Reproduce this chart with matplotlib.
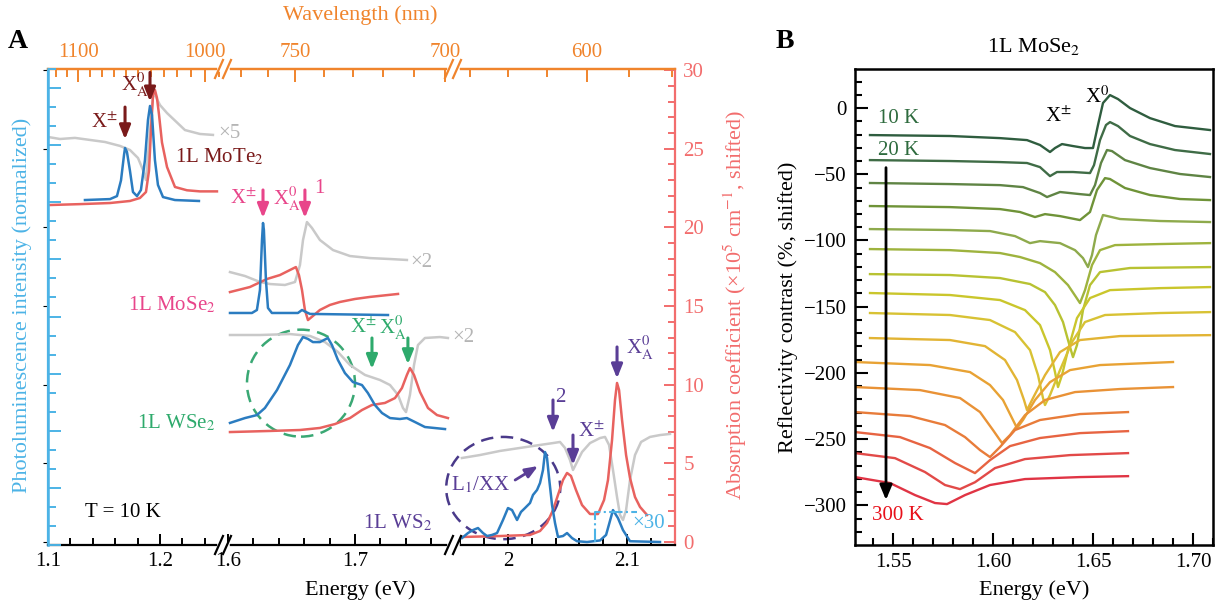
import numpy as np
import matplotlib
matplotlib.use('Agg')
import matplotlib.pyplot as plt
from matplotlib.patches import Ellipse
from matplotlib.lines import Line2D

plt.rcParams['font.family'] = ['Liberation Serif', 'DejaVu Serif']
plt.rcParams['mathtext.fontset'] = 'stix'
plt.rcParams['font.size'] = 15

# ---------------- panel A data (energy eV / absorption units, shifted) ----------------
mote2_abs_e = [1.1, 1.1286, 1.1554, 1.1732, 1.1821, 1.1875, 1.1902, 1.1920, 1.1938, 1.1955,
               1.1973, 1.1991, 1.2018, 1.2063, 1.2134, 1.2241, 1.2357, 1.2509]
mote2_abs_y = [21.42, 21.48, 21.55, 21.68, 21.87, 22.25, 23.60, 26.19, 28.42, 28.74,
               28.24, 27.2, 25.4, 23.84, 22.57, 22.36, 22.29, 22.29]
mote2_pl_e = [1.1330, 1.1554, 1.1616, 1.1652, 1.1679, 1.1688, 1.1705, 1.1732, 1.1759, 1.1795,
              1.1830, 1.1866, 1.1893, 1.1911, 1.1929, 1.1955, 1.1982, 1.2027, 1.2134, 1.2348]
mote2_pl_y = [21.74, 21.80, 21.99, 22.99, 24.61, 25.05, 24.80, 23.60, 22.25, 21.99,
              22.38, 24.28, 26.83, 27.72, 27.14, 24.28, 22.70, 21.93, 21.74, 21.68]
mote2_ref_e = [1.1, 1.1107, 1.1241, 1.1375, 1.1509, 1.1643, 1.1732, 1.1804, 1.1848, 1.1875,
               1.1911, 1.1938, 1.1955, 1.2, 1.2063, 1.2223, 1.2357, 1.2473]
mote2_ref_y = [25.75, 25.62, 25.69, 25.56, 25.43, 25.18, 24.92, 24.41, 23.65, 23.01,
               26.19, 28.35, 28.42, 27.78, 27.27, 26.19, 25.94, 25.88]

mose2_pl_e = [1.6016, 1.6189, 1.6228, 1.6252, 1.6268, 1.6276, 1.6283, 1.6299, 1.6315, 1.6346,
              1.6551, 1.6583, 1.6614, 1.6646, 1.7260]
mose2_pl_y = [14.56, 14.56, 14.75, 16.02, 19.20, 20.28, 19.84, 16.66, 14.88, 14.56,
              14.56, 14.75, 14.62, 14.50, 14.43]
mose2_abs_e = [1.6016, 1.6173, 1.6307, 1.6409, 1.6488, 1.6535, 1.6559, 1.6583, 1.6606, 1.6630,
               1.6669, 1.6724, 1.6803, 1.6882, 1.7, 1.7118, 1.7339]
mose2_abs_y = [15.89, 16.21, 16.72, 16.97, 17.29, 17.48, 16.97, 16.02, 14.75, 14.11,
               14.37, 14.75, 15.07, 15.26, 15.45, 15.58, 15.77]
mose2_ref_e = [1.6016, 1.6134, 1.6252, 1.6331, 1.6449, 1.6528, 1.6567, 1.6591, 1.6622, 1.6661,
               1.6724, 1.6827, 1.6961, 1.7118, 1.7276, 1.7409]
mose2_ref_y = [17.16, 16.91, 16.53, 16.40, 16.34, 16.53, 17.61, 19.20, 20.34, 19.97,
               19.20, 18.56, 18.18, 18.05, 17.99, 17.93]

wse2_pl_e = [1.6016, 1.6134, 1.6228, 1.6291, 1.6386, 1.6488, 1.6551, 1.6591, 1.6630, 1.6669,
             1.6724, 1.6787, 1.6819, 1.6866, 1.6921, 1.6984, 1.7055, 1.7102, 1.7157, 1.7213,
             1.7276, 1.7354, 1.7409, 1.7472, 1.7551, 1.7709]
wse2_pl_y = [7.57, 7.88, 8.07, 8.52, 9.66, 11.25, 12.52, 13.03, 12.91, 12.71,
             12.71, 12.97, 12.52, 11.57, 10.74, 10.17, 9.98, 9.47, 8.71, 8.20,
             7.88, 7.82, 7.88, 7.63, 7.31, 7.18]
wse2_abs_e = [1.6016, 1.6331, 1.6567, 1.6724, 1.6843, 1.6961, 1.7055, 1.7134, 1.7236, 1.7315,
              1.7370, 1.7409, 1.7433, 1.7465, 1.7512, 1.7575, 1.7646, 1.7732]
wse2_abs_y = [6.99, 7.06, 7.12, 7.25, 7.50, 7.88, 8.39, 8.71, 8.84, 9.15,
              9.79, 10.62, 11.06, 10.62, 9.54, 8.52, 8.07, 7.88]
wse2_ref_e = [1.6016, 1.6252, 1.6488, 1.6646, 1.6764, 1.6866, 1.6961, 1.7079, 1.7197, 1.7276,
              1.7339, 1.7378, 1.7402, 1.7433, 1.7465, 1.7496, 1.7551, 1.7669, 1.7732]
wse2_ref_y = [13.16, 13.16, 13.22, 13.10, 12.71, 12.08, 11.25, 10.62, 10.30, 9.98,
              9.35, 8.52, 8.26, 9.35, 11.25, 12.52, 12.97, 13.03, 12.97]

ws2_pl_e = [1.9613, 1.9664, 1.9706, 1.9748, 1.9790, 1.9824, 1.9866, 1.9908, 1.9958, 2.0,
            2.0034, 2.0076, 2.0109, 2.0143, 2.0185, 2.0210, 2.0244, 2.0269, 2.0294, 2.0311,
            2.0328, 2.0345, 2.0370, 2.0395, 2.0420, 2.0462, 2.0496, 2.0538, 2.0580, 2.0664,
            2.0773, 2.0824, 2.0882, 2.0924, 2.0966, 2.1025, 2.1277]
ws2_pl_y = [0.25, 0.57, 0.76, 0.89, 0.57, 0.38, 0.45, 0.57, 1.40, 2.16,
            2.03, 1.40, 1.91, 2.16, 2.48, 2.99, 3.31, 3.75, 4.58, 5.72,
            5.34, 4.07, 2.35, 1.21, 0.32, 0.38, 0.57, 0.25, 0.05, 0.0,
            0.1, 0.45, 2.03, 1.52, 0.76, 0.05, 0.0]
ws2_abs_e = [1.9613, 1.9933, 2.0185, 2.0269, 2.0328, 2.0378, 2.0420, 2.0462, 2.0496, 2.0529,
             2.0571, 2.0622, 2.0689, 2.0756, 2.0807, 2.0840, 2.0874, 2.0899, 2.0916, 2.0933,
             2.0958, 2.0992, 2.1025, 2.1067, 2.1109, 2.1168]
ws2_abs_y = [0.32, 0.38, 0.45, 0.70, 1.21, 2.03, 2.99, 3.94, 4.39, 4.20,
             3.31, 2.35, 1.78, 1.78, 2.67, 3.94, 6.48, 9.03, 10.11, 9.66,
             7.76, 5.53, 4.07, 2.86, 2.23, 1.72]
ws2_ref_e = [1.9613, 1.9765, 1.9933, 2.0101, 2.0269, 2.0378, 2.0437, 2.0479, 2.0521, 2.0546,
             2.0580, 2.0622, 2.0689, 2.0773, 2.0815, 2.0849, 2.0882, 2.0916, 2.0941, 2.0966,
             2.0992, 2.1025, 2.1067, 2.1118, 2.1193, 2.1277, 2.1361]
ws2_ref_y = [5.34, 5.53, 5.79, 5.98, 6.17, 6.29, 6.36, 5.98, 5.21, 4.58,
             5.09, 5.72, 6.29, 6.61, 6.68, 6.17, 4.58, 2.86, 1.72, 1.40,
             2.03, 3.94, 5.53, 6.36, 6.68, 6.80, 6.87]
x30_mark_e = [2.0731, 2.0731, 2.1084]
x30_mark_y = [0.0, 1.91, 1.91]

# axis ticks, panel A
seg_lims = [(1.1, 1.2563), (1.5961, 1.7772), (1.9538, 2.1403)]
e_major = [[1.1, 1.2], [1.6, 1.7], [2.0, 2.1]]
e_labels = [['1.1', '1.2'], ['1.6', '1.7'], ['2', '2.1']]
e_minor = [[1.12, 1.14, 1.16, 1.18, 1.22, 1.24],
           [1.62, 1.64, 1.66, 1.68, 1.72, 1.74, 1.76],
           [1.96, 1.98, 2.02, 2.04, 2.06, 2.08, 2.12, 2.14]]
nm_major = [[1100, 1000], [750, 700], [600]]
nm_minor = [list(range(990, 1130, 10)), list(range(700, 780, 10)), list(range(580, 640, 10))]
abs_ticks = [0, 5, 10, 15, 20, 25, 30]

# arrows: (energy, y_start, y_end)
mote2_arrows = [(1.1688, 27.65, 25.6), (1.1911, 29.85, 28.0)]
mose2_arrows = [(1.6276, 22.38, 20.6), (1.6606, 22.38, 20.6)]
wse2_arrows = [(1.7134, 12.97, 11.0), (1.7417, 12.97, 11.3)]
ws2_arrows = [(2.0378, 9.03, 7.0), (2.0546, 6.80, 4.9), (2.0916, 12.4, 10.4)]
l1xx_arrow = [(2.0060, 3.94), (2.0252, 4.83)]

# ---------------- panel B data (reflectivity contrast, %, shifted) ----------------
temps_label = ['10 K', '20 K', '300 K']
rc_e = [
    [1.5385, 1.5785, 1.6035, 1.617, 1.6235, 1.6285, 1.631, 1.6345, 1.640, 1.646, 1.650, 1.6525, 1.655, 1.6585, 1.6625, 1.6685, 1.6785, 1.691, 1.7085],
    [1.5385, 1.5785, 1.6035, 1.617, 1.6235, 1.6285, 1.632, 1.640, 1.6485, 1.6505, 1.6535, 1.6565, 1.6585, 1.6625, 1.6685, 1.6785, 1.691, 1.7085],
    [1.5385, 1.5785, 1.6035, 1.615, 1.6235, 1.627, 1.6335, 1.6435, 1.6485, 1.651, 1.654, 1.657, 1.6595, 1.666, 1.6785, 1.6935, 1.7085],
    [1.5385, 1.5785, 1.6035, 1.6135, 1.621, 1.626, 1.6335, 1.6435, 1.6485, 1.652, 1.656, 1.6585, 1.666, 1.6785, 1.6935, 1.7085],
    [1.5385, 1.5785, 1.5985, 1.611, 1.6185, 1.6235, 1.6335, 1.641, 1.645, 1.6475, 1.6495, 1.6515, 1.655, 1.6635, 1.6835, 1.7085],
    [1.5385, 1.5785, 1.6035, 1.6135, 1.6235, 1.631, 1.6375, 1.6415, 1.6435, 1.646, 1.6495, 1.6535, 1.661, 1.6835, 1.7085],
    [1.5385, 1.5785, 1.6035, 1.6185, 1.626, 1.631, 1.635, 1.6375, 1.640, 1.642, 1.645, 1.6485, 1.6535, 1.6685, 1.7085],
    [1.5385, 1.5785, 1.6035, 1.616, 1.6235, 1.6285, 1.631, 1.6325, 1.6345, 1.6375, 1.642, 1.6485, 1.6585, 1.6835, 1.7085],
    [1.5385, 1.5785, 1.5985, 1.611, 1.6185, 1.6225, 1.625, 1.626, 1.6285, 1.6335, 1.6395, 1.646, 1.656, 1.6835, 1.7085],
    [1.5385, 1.5785, 1.596, 1.606, 1.612, 1.6155, 1.617, 1.620, 1.626, 1.6335, 1.6435, 1.6635, 1.7085],
    [1.531, 1.5685, 1.5885, 1.5985, 1.605, 1.6095, 1.612, 1.615, 1.621, 1.6285, 1.6385, 1.6535, 1.690],
    [1.531, 1.5635, 1.5835, 1.5935, 1.600, 1.6045, 1.6085, 1.616, 1.626, 1.641, 1.6635, 1.690],
    [1.531, 1.5585, 1.576, 1.586, 1.5935, 1.5985, 1.6035, 1.611, 1.6235, 1.6435, 1.6675],
    [1.531, 1.5535, 1.5685, 1.581, 1.591, 1.5985, 1.6085, 1.6235, 1.6435, 1.6675],
    [1.531, 1.551, 1.566, 1.576, 1.5835, 1.591, 1.601, 1.616, 1.6385, 1.6675],
    [1.531, 1.5485, 1.561, 1.571, 1.577, 1.586, 1.5985, 1.616, 1.6435, 1.6675],
]
rc_y = [
    [-20.4, -21.1, -22.7, -24.2, -27.9, -33.2, -30.2, -27.2, -28.7, -30.2, -30.2, -12.8, 3.8, 9.8, 6.8, 0.0, -7.6, -13.6, -16.6],
    [-39.3, -40.0, -40.8, -41.5, -44.6, -51.4, -48.3, -48.3, -49.1, -43.1, -24.2, -12.8, -10.6, -13.6, -21.1, -27.2, -31.7, -34.7],
    [-56.6, -57.4, -58.2, -59.7, -64.2, -67.2, -63.4, -65.0, -65.7, -58.2, -41.5, -31.7, -32.5, -39.3, -45.3, -49.8, -52.1],
    [-74.0, -74.8, -76.3, -78.5, -82.3, -80.1, -81.6, -84.6, -78.5, -61.9, -52.9, -53.6, -60.4, -65.7, -68.7, -69.5],
    [-91.4, -92.1, -92.9, -96.7, -102.0, -100.5, -102.0, -107.3, -113.3, -120.1, -111.0, -95.9, -80.8, -83.8, -85.3, -86.1],
    [-106.5, -107.3, -109.5, -112.5, -117.1, -123.9, -133.7, -142.7, -147.3, -137.5, -118.6, -107.3, -103.5, -102.7, -102.0],
    [-125.4, -126.1, -128.4, -132.9, -139.0, -148.8, -161.6, -175.2, -188.1, -179.0, -152.6, -133.7, -123.9, -120.8, -120.1],
    [-139.7, -141.2, -145.0, -152.6, -163.9, -182.8, -199.4, -210.7, -201.7, -182.8, -158.6, -143.5, -137.5, -136.0, -135.2],
    [-154.8, -156.3, -160.1, -169.2, -182.8, -201.7, -219.0, -224.3, -216.8, -197.9, -176.7, -161.6, -156.3, -154.8, -154.1],
    [-173.7, -175.2, -179.8, -190.3, -205.4, -220.5, -228.1, -219.0, -201.7, -184.3, -175.2, -172.2, -171.5],
    [-191.8, -194.1, -199.4, -209.2, -220.5, -234.1, -241.7, -235.6, -220.5, -207.0, -197.9, -194.1, -191.8],
    [-210.7, -213.0, -219.0, -229.6, -243.2, -253.0, -247.0, -231.9, -220.5, -214.5, -212.2, -210.7],
    [-229.6, -232.6, -239.4, -248.5, -258.3, -263.6, -256.0, -243.2, -235.6, -231.1, -229.6],
    [-244.7, -248.5, -256.8, -268.1, -275.7, -265.9, -255.3, -249.2, -245.5, -244.0],
    [-260.6, -264.4, -274.9, -284.7, -287.8, -282.6, -271.9, -265.1, -262.1, -260.6],
    [-278.7, -283.2, -292.3, -298.3, -299.1, -292.3, -284.7, -280.2, -278.7, -278.0],
]
rc_colors = ['#2f5d3f', '#3f6c46', '#5f8444', '#6f9338', '#8eaa4c', '#9eb33e', '#b8c232', '#cac62c',
             '#d8c234', '#e2b434', '#e8a234', '#e99236', '#e87c3a', '#e76442', '#e24a48', '#e03444']

C_PL = '#2b7cc0'
C_ABS = '#e8625f'
C_REF = '#c9c9c9'
C_BLUE = '#4cb3e6'
C_RED = '#f26d6d'
C_ORANGE = '#f0842c'

W, H = 1220, 605
fig = plt.figure(figsize=(W / 100, H / 100), dpi=100)


def box(x0, x1, y0=69, y1=545):
    return [x0 / W, 1 - y1 / H, (x1 - x0) / W, (y1 - y0) / H]


def e2nm(x):
    x = np.asarray(x, dtype=float)
    with np.errstate(divide='ignore'):
        return 1239.84 / x


seg_px = [(48, 223), (223, 453), (453, 675)]
axs = []
for i, (p0, p1) in enumerate(seg_px):
    ax = fig.add_axes(box(p0, p1))
    ax.patch.set_visible(False)
    ax.set_xlim(*seg_lims[i])
    ax.set_ylim(-0.19, 30.07)
    for s in ax.spines.values():
        s.set_linewidth(1.6)
    ax.spines['bottom'].set_color('black')
    ax.spines['top'].set_color(C_ORANGE)
    ax.spines['left'].set_visible(i == 0)
    ax.spines['left'].set_color(C_BLUE)
    ax.spines['right'].set_visible(i == 2)
    ax.spines['right'].set_color(C_RED)
    ax.set_xticks(e_major[i])
    ax.set_xticklabels(e_labels[i])
    ax.set_xticks(e_minor[i], minor=True)
    ax.tick_params(axis='x', which='both', direction='in', top=False, width=1.4, pad=5)
    ax.tick_params(axis='x', which='major', length=8)
    ax.tick_params(axis='x', which='minor', length=5)
    if i < 2:
        ax.tick_params(axis='y', which='both', left=False, right=False, labelleft=False)
    else:
        ax.yaxis.tick_right()
        ax.set_yticks(abs_ticks)
        ax.set_yticks(range(0, 31), minor=True)
        ax.tick_params(axis='y', which='both', direction='in', colors=C_RED, width=1.4, pad=6)
        ax.tick_params(axis='y', which='major', length=8)
        ax.tick_params(axis='y', which='minor', length=5)
    sec = ax.secondary_xaxis('top', functions=(e2nm, e2nm))
    sec.set_xticks(nm_major[i])
    sec.set_xticklabels([str(v) for v in nm_major[i]])
    sec.set_xticks(nm_minor[i], minor=True)
    sec.tick_params(which='both', direction='in', colors=C_ORANGE, width=1.4, pad=5)
    sec.tick_params(which='major', length=9)
    sec.tick_params(which='minor', length=6)
    sec.spines['top'].set_color(C_ORANGE)
    sec.spines['top'].set_linewidth(1.6)
    axs.append(ax)

ax1, ax2, ax3 = axs

# blue PL axis (normalized, unlabeled ticks)
ax_pl = ax1.twinx()
ax_pl.set_ylim(0, 25)
ax_pl.yaxis.set_ticks_position('left')
ax_pl.set_yticks(range(0, 26, 3))
ax_pl.set_yticks(range(0, 26), minor=True)
ax_pl.tick_params(axis='y', which='both', direction='in', colors=C_BLUE, width=1.4,
                  labelleft=False, labelright=False)
ax_pl.tick_params(axis='y', which='major', length=9)
ax_pl.tick_params(axis='y', which='minor', length=6)
for k in ['top', 'bottom', 'right']:
    ax_pl.spines[k].set_visible(False)
ax_pl.spines['left'].set_color(C_BLUE)
ax_pl.spines['left'].set_linewidth(1.8)

lw = 1.8
# MoTe2
ax1.plot(mote2_ref_e, mote2_ref_y, color=C_REF, lw=lw)
ax1.plot(mote2_abs_e, mote2_abs_y, color=C_ABS, lw=lw)
ax1.plot(mote2_pl_e, mote2_pl_y, color=C_PL, lw=lw)
# MoSe2 / WSe2
ax2.plot(mose2_ref_e, mose2_ref_y, color=C_REF, lw=lw)
ax2.plot(mose2_abs_e, mose2_abs_y, color=C_ABS, lw=lw)
ax2.plot(mose2_pl_e, mose2_pl_y, color=C_PL, lw=lw)
ax2.plot(wse2_ref_e, wse2_ref_y, color=C_REF, lw=lw)
ax2.plot(wse2_abs_e, wse2_abs_y, color=C_ABS, lw=lw)
ax2.plot(wse2_pl_e, wse2_pl_y, color=C_PL, lw=lw)
# WS2
ax3.plot(ws2_ref_e, ws2_ref_y, color=C_REF, lw=lw)
ax3.plot(ws2_abs_e, ws2_abs_y, color=C_ABS, lw=lw)
ax3.plot(ws2_pl_e, ws2_pl_y, color=C_PL, lw=lw, clip_on=False)
ax3.plot(x30_mark_e, x30_mark_y, color=C_BLUE, lw=1.5, ls='-.')

ax2.add_patch(Ellipse((1.6575, 10.1), 0.085, 6.8, fill=False, ls=(0, (5, 3)), lw=1.8,
                      color='#3aa874', clip_on=False))
ax3.add_patch(Ellipse((1.996, 3.43), 0.0958, 6.5, fill=False, ls=(0, (5, 3)), lw=1.8,
                      color='#4a3a8a', clip_on=False))

ARROW = '-|>,head_length=0.55,head_width=0.22'


def arrows(ax, lst, color):
    for e, y0, y1 in lst:
        ax.annotate('', xy=(e, y1), xytext=(e, y0),
                    arrowprops=dict(arrowstyle=ARROW, color=color, lw=2.2, shrinkA=0, shrinkB=0))


C_MOTE = '#7a1a1a'
C_MOSE = '#e8458a'
C_WSE = '#2eaa6c'
C_WS = '#5a3e96'
arrows(ax1, mote2_arrows, C_MOTE)
arrows(ax2, mose2_arrows, C_MOSE)
arrows(ax2, wse2_arrows, C_WSE)
arrows(ax3, ws2_arrows, C_WS)

fs = 15
ax1.text(1.1625, 26.6, r'X$^{\pm}$', color=C_MOTE, ha='right', va='center', fontsize=fs)
ax1.text(1.1775, 29.0, r'X$^{0}_{\rm A}$', color=C_MOTE, ha='center', va='center', fontsize=fs)
ax1.text(1.2134, 24.5, r'1L MoTe$_2$', color=C_MOTE, ha='left', va='center', fontsize=fs)
ax1.text(1.2518, 25.95, '×5', color='#b5b5b5', ha='left', va='center', fontsize=fs)

ax2.text(1.6225, 21.8, r'X$^{\pm}$', color=C_MOSE, ha='right', va='center', fontsize=fs)
ax2.text(1.6465, 21.8, r'X$^{0}_{\rm A}$', color=C_MOSE, ha='center', va='center', fontsize=fs)
ax2.text(1.6675, 22.5, '1', color=C_MOSE, ha='left', va='center', fontsize=fs)
ax2.text(1.7433, 17.8, '×2', color='#b5b5b5', ha='left', va='center', fontsize=fs)
ax1.text(1.2107, 15.1, r'1L MoSe$_2$', color=C_MOSE, ha='center', va='center', fontsize=fs)

ax2.text(1.7063, 13.6, r'X$^{\pm}$', color=C_WSE, ha='center', va='center', fontsize=fs)
ax2.text(1.7300, 13.6, r'X$^{0}_{\rm A}$', color=C_WSE, ha='center', va='center', fontsize=fs)
ax2.text(1.7764, 12.97, '×2', color='#b5b5b5', ha='left', va='center', fontsize=fs)
ax1.text(1.2143, 7.6, r'1L WSe$_2$', color=C_WSE, ha='center', va='center', fontsize=fs)

ax3.text(2.0400, 9.2, '2', color=C_WS, ha='left', va='center', fontsize=fs)
ax3.text(2.0590, 7.0, r'X$^{\pm}$', color=C_WS, ha='left', va='center', fontsize=fs)
ax3.text(2.0990, 12.3, r'X$^{0}_{\rm A}$', color=C_WS, ha='left', va='center', fontsize=fs)
ax3.text(2.1042, 1.2, '×30', color=C_BLUE, ha='left', va='center', fontsize=fs)
ax3.text(1.9765, 3.6, r'L$_1$/XX', color=C_WS, ha='center', va='center', fontsize=fs)
ax3.annotate('', xy=l1xx_arrow[1], xytext=l1xx_arrow[0],
             arrowprops=dict(arrowstyle='-|>,head_length=0.5,head_width=0.2', color=C_WS,
                             lw=2, shrinkA=0, shrinkB=0))
ax2.text(1.7331, 1.2, r'1L WS$_2$', color=C_WS, ha='center', va='center', fontsize=fs)
ax1.text(1.1670, 1.9, 'T = 10 K', color='black', ha='center', va='center', fontsize=fs)


def break_mark(xp, yp, color):
    fig.add_artist(Line2D([(xp - 3) / W, (xp + 4) / W], [1 - yp / H] * 2,
                          transform=fig.transFigure, color='white', lw=4))
    for dx in (-4, 4):
        fig.add_artist(Line2D([(xp + dx - 4) / W, (xp + dx + 4) / W],
                              [1 - (yp + 9) / H, 1 - (yp - 9) / H],
                              transform=fig.transFigure, color=color, lw=1.6))


for xp in (223, 453):
    break_mark(xp, 545, 'black')
    break_mark(xp, 69, C_ORANGE)

fig.text(360 / W, 1 - 15 / H, 'Wavelength (nm)', color=C_ORANGE, ha='center', va='center', fontsize=16)
fig.text(360 / W, 1 - 590 / H, 'Energy (eV)', color='black', ha='center', va='center', fontsize=16)
fig.text(22 / W, 1 - 305 / H, 'Photoluminescence intensity (normalized)', color=C_BLUE,
         rotation=90, ha='center', va='center', fontsize=16)
fig.text(735 / W, 1 - 305 / H, r'Absorption coefficient (×10$^5$ cm$^{-1}$, shifted)', color=C_RED,
         rotation=90, ha='center', va='center', fontsize=16)
fig.text(18 / W, 1 - 42 / H, 'A', fontsize=20, fontweight='bold', ha='center', va='center')
fig.text(785 / W, 1 - 42 / H, 'B', fontsize=20, fontweight='bold', ha='center', va='center')

# ---------------- panel B ----------------
axB = fig.add_axes(box(855, 1213))
axB.set_xlim(1.531, 1.710)
axB.set_ylim(-330, 29.5)
for e, y, c in zip(rc_e, rc_y, rc_colors):
    axB.plot(e, y, color=c, lw=1.7)
for s in axB.spines.values():
    s.set_linewidth(1.8)
axB.set_xticks([1.55, 1.60, 1.65, 1.70])
axB.set_xticklabels(['1.55', '1.60', '1.65', '1.70'])
axB.set_xticks(np.arange(1.54, 1.711, 0.01), minor=True)
axB.set_yticks(range(-300, 1, 50))
axB.set_yticks(range(-320, 21, 10), minor=True)
axB.tick_params(which='both', direction='in', width=1.5, pad=6)
axB.tick_params(which='major', length=9)
axB.tick_params(which='minor', length=5)
axB.set_xlabel('Energy (eV)', fontsize=16, labelpad=6)
axB.set_ylabel('Reflectivity contrast (%, shifted)', fontsize=16, labelpad=4)
axB.set_title(r'1L MoSe$_2$', fontsize=16, pad=12)
axB.annotate('', xy=(1.5465, -296), xytext=(1.5465, -45),
             arrowprops=dict(arrowstyle='-|>,head_length=0.6,head_width=0.25', color='black',
                             lw=2, shrinkA=0, shrinkB=0))
axB.text(1.5425, -7.6, temps_label[0], color='#2e6b3e', ha='left', va='center', fontsize=fs)
axB.text(1.5425, -31.7, temps_label[1], color='#2e6b3e', ha='left', va='center', fontsize=fs)
axB.text(1.5395, -307.5, temps_label[2], color='#e8101a', ha='left', va='center', fontsize=fs)
axB.text(1.6325, -6.8, r'X$^{\pm}$', ha='center', va='center', fontsize=fs)
axB.text(1.6520, 8.3, r'X$^{0}$', ha='center', va='center', fontsize=fs)

fig.savefig('out.png', dpi=100)
